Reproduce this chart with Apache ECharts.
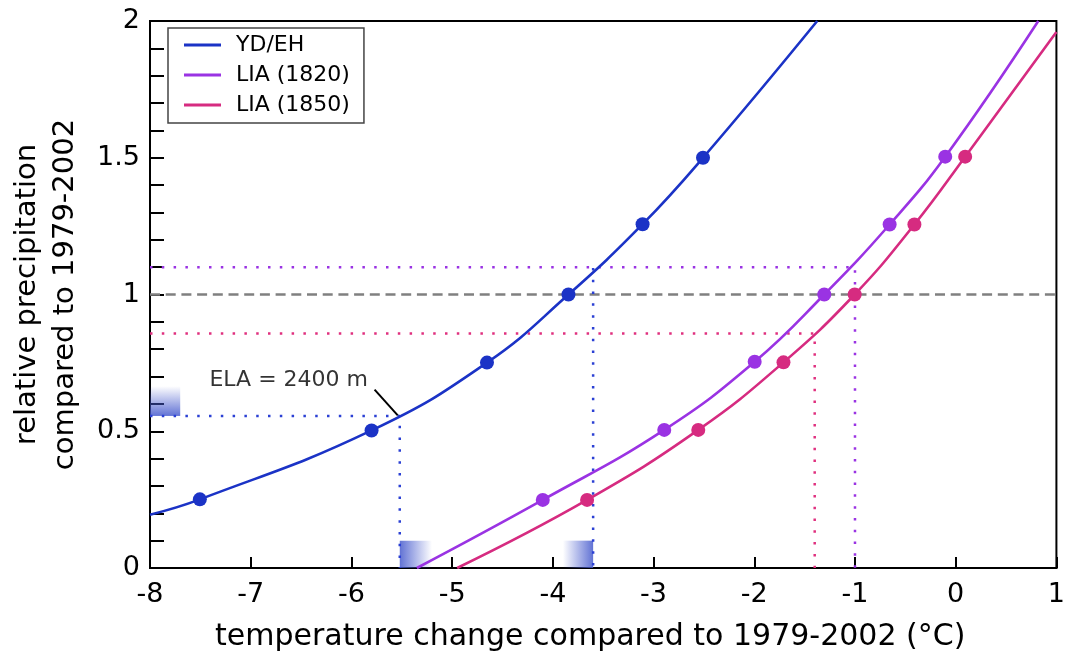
<!DOCTYPE html>
<html>
<head>
<meta charset="utf-8">
<script src="https://cdn.jsdelivr.net/npm/echarts@6/dist/echarts.min.js"></script>
<style>
html,body{margin:0;padding:0;background:#fff;}
#chart{width:1068px;height:657px;}
</style>
</head>
<body>
<div id="chart"></div>
<script>
// ---- data ----
const seriesNames = ['YD/EH', 'LIA (1820)', 'LIA (1850)'];

// fitted curves (temperature change, relative precipitation), read at the markers and curve ends
const ydCurve = [[-8,0.195],[-7.505,0.251],[-5.8,0.503],[-4.654,0.751],[-3.845,1.0],[-3.109,1.257],[-2.509,1.5],[-1.375,2.0]];
const lia1820Curve = [[-5.35,0],[-4.1,0.249],[-2.894,0.505],[-1.996,0.754],[-1.305,1.0],[-0.656,1.256],[-0.104,1.504],[0.82,2.0]];
const lia1850Curve = [[-4.95,0],[-3.66,0.249],[-2.556,0.505],[-1.71,0.752],[-1.003,1.0],[-0.41,1.256],[0.094,1.504],[1.0,1.96]];

// sampled points (markers)
const ydPoints = [[-7.505,0.251],[-5.8,0.503],[-4.654,0.751],[-3.845,1.0],[-3.109,1.257],[-2.509,1.5]];
const lia1820Points = [[-4.1,0.249],[-2.894,0.505],[-1.996,0.754],[-1.305,1.0],[-0.656,1.256],[-0.104,1.504]];
const lia1850Points = [[-3.66,0.249],[-2.556,0.505],[-1.71,0.752],[-1.003,1.0],[-0.41,1.256],[0.094,1.504]];

// reference guide lines
const ydGuideA = [[-8,0.556],[-5.52,0.556],[-5.52,0]];
const ydGuideB = [[-3.6,1.097],[-3.6,0]];
const lia1820Guide = [[-8,1.1],[-1.0,1.1],[-1.0,0]];
const lia1850Guide = [[-8,0.857],[-1.4,0.857],[-1.4,0]];
const unityLine = [[-8,1],[1,1]];

// uncertainty ranges (shaded)
const elaPrecipRange = [[-8,0.556],[-7.7,0.665]];
const elaTempRangeA = [[-5.52,0],[-5.2,0.1]];
const elaTempRangeB = [[-3.9,0],[-3.6,0.1]];

// annotation
const elaLabelText = 'ELA = 2400 m';
const elaLabelAt = [[-7.41,0.688]];
const elaLeader = [[-5.77,0.652],[-5.54,0.558]];

// axis ticks
const xMin = -8, xMax = 1, xStep = 1;
const yMin = 0, yMax = 2, yStep = 0.1;

// ---- chart ----
const BLUE = '#1b33c6', PURPLE = '#9a33e3', PINK = '#d62b80';
const FONT = 'DejaVu Sans';

function grad(dir, rgb, reverse) {
  const a = 'rgba(' + rgb + ',0.85)', b = 'rgba(' + rgb + ',0)';
  const stops = reverse ? [{offset:0,color:b},{offset:1,color:a}] : [{offset:0,color:a},{offset:1,color:b}];
  return dir === 'v'
    ? {type:'linear', x:0, y:0, x2:0, y2:1, colorStops:stops}
    : {type:'linear', x:0, y:0, x2:1, y2:0, colorStops:stops};
}
function area(r, color) {
  return [{xAxis:r[0][0], yAxis:r[0][1], itemStyle:{color:color}}, {xAxis:r[1][0], yAxis:r[1][1]}];
}
function guide(name, data, color, type, z) {
  return {name:name, type:'line', data:data, symbol:'none', silent:true, z:z || 2,
    lineStyle:{color:color, width:2.5, type:type, cap:'butt'}, animation:false};
}
function curve(name, data, color) {
  return {name:name, type:'line', data:data, symbol:'none', showSymbol:false, smooth:0.45, z:4,
    lineStyle:{color:color, width:2.6}, itemStyle:{color:color}, animation:false};
}
function pts(name, data, color) {
  return {name:name, type:'scatter', data:data, symbol:'circle', symbolSize:14, z:5,
    itemStyle:{color:color, opacity:1}, animation:false};
}

const chart = echarts.init(document.getElementById('chart'), null, {renderer:'canvas'});
const dotted = [2.5, 9.3];
chart.setOption({
  animation:false,
  backgroundColor:'#fff',
  textStyle:{fontFamily:FONT, color:'#000'},
  grid:{left:148, right:10, top:21, bottom:85, show:true, borderColor:'#000', borderWidth:2, backgroundColor:'transparent'},
  legend:{
    orient:'vertical', left:168, top:28,
    data:seriesNames.map(function(n){ return {name:n, icon:'rect'}; }),
    itemWidth:37, itemHeight:3, itemGap:8,
    padding:[6,14,7,16],
    borderColor:'#444', borderWidth:1.5, borderRadius:0,
    backgroundColor:'#fff',
    textStyle:{fontSize:22, color:'#000', fontFamily:FONT, lineHeight:22, padding:[0,0,0,10]}
  },
  xAxis:{
    type:'value', min:xMin, max:xMax, interval:xStep,
    name:'temperature change compared to 1979-2002 (°C)',
    nameLocation:'middle', nameGap:54,
    nameTextStyle:{fontSize:30, color:'#000', fontFamily:FONT, padding:[0,26,0,0]},
    axisLine:{show:true, onZero:false, lineStyle:{color:'#000', width:2}},
    axisTick:{show:true, inside:true, length:11, lineStyle:{color:'#000', width:2}},
    axisLabel:{fontSize:27, color:'#000', margin:13, fontFamily:FONT},
    splitLine:{show:false}
  },
  yAxis:{
    type:'value', min:yMin, max:yMax, interval:yStep,
    name:'relative precipitation\ncompared to 1979-2002',
    nameLocation:'middle', nameGap:66, nameRotate:90,
    nameTextStyle:{fontSize:29, color:'#000', fontFamily:FONT, lineHeight:38},
    axisLine:{show:true, onZero:false, lineStyle:{color:'#000', width:2}},
    axisTick:{show:true, inside:true, length:14, lineStyle:{color:'#000', width:2}},
    axisLabel:{fontSize:27, color:'#000', margin:10, fontFamily:FONT,
      formatter:function(v){ const k = Math.round(v*10); return (k % 5) ? '' : String(k/10); }},
    splitLine:{show:false}
  },
  series:[
    guide('guide-unity', unityLine, '#808080', [10,5.7], 2),
    Object.assign(guide('guide-yd-a', ydGuideA, '#2b40d4', dotted, 2), {
      markArea:{silent:true, data:[
        area(elaPrecipRange, grad('v','70,90,205',true)),
        area(elaTempRangeA, grad('h','70,90,205',false)),
        area(elaTempRangeB, grad('h','70,90,205',true))
      ]}
    }),
    guide('guide-yd-b', ydGuideB, '#2b40d4', dotted, 2),
    guide('guide-1820', lia1820Guide, PURPLE, dotted, 2),
    guide('guide-1850', lia1850Guide, '#e0307f', dotted, 2),
    curve(seriesNames[0], ydCurve, BLUE),
    curve(seriesNames[1], lia1820Curve, PURPLE),
    curve(seriesNames[2], lia1850Curve, PINK),
    pts('pts-yd', ydPoints, BLUE),
    pts('pts-1820', lia1820Points, PURPLE),
    pts('pts-1850', lia1850Points, PINK),
    {name:'ela-leader', type:'line', data:elaLeader, symbol:'none', silent:true, z:6,
      lineStyle:{color:'#000', width:2}, animation:false},
    {name:'ela-label', type:'scatter', data:elaLabelAt, symbolSize:0, silent:true, z:6,
      itemStyle:{color:'rgba(0,0,0,0)'},
      label:{show:true, position:'right', distance:0, formatter:elaLabelText,
        fontSize:22, color:'#000', fontFamily:FONT}, animation:false}
  ]
});
</script>
</body>
</html>
